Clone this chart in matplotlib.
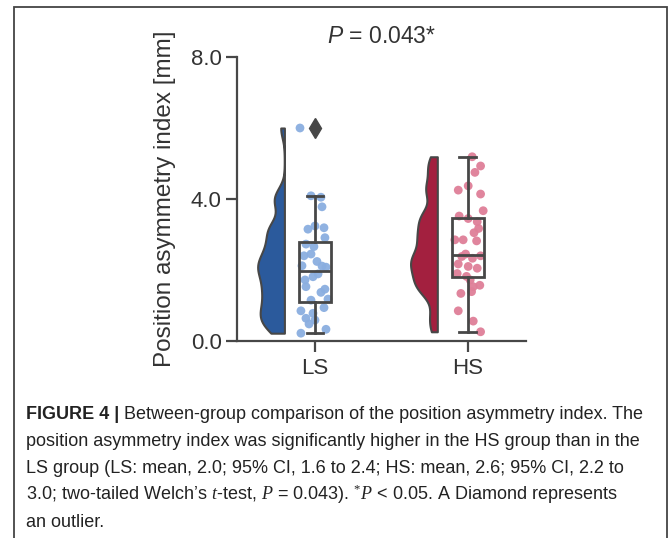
import matplotlib
matplotlib.use("Agg")
import matplotlib.pyplot as plt
import matplotlib.patches as mpatches
import numpy as np

# ---- data ----
groups = ["LS", "HS"]
ls_values = [6.0, 4.09, 4.05, 3.78, 3.15, 3.24, 3.19, 2.91, 2.73, 2.66, 2.40, 2.45,
             2.24, 2.11, 2.08, 2.12, 1.89, 1.81, 1.72, 1.53, 1.46, 1.37, 1.18, 1.15,
             0.94, 0.85, 0.78, 0.64, 0.59, 0.48, 0.33, 0.22]
ls_jitter = [-0.098, -0.026, 0.039, 0.046, -0.046, 0.0, 0.059, 0.065, -0.059, -0.007,
             -0.072, -0.026, 0.013, 0.046, 0.072, -0.085, 0.02, -0.013, -0.065, -0.059,
             0.065, 0.039, 0.085, -0.026, 0.059, -0.092, -0.013, -0.059, 0.0, -0.039,
             0.072, -0.092]
hs_values = [5.19, 4.93, 4.75, 4.37, 4.25, 4.14, 3.67, 3.52, 3.45, 3.36, 3.17, 3.05,
             2.85, 2.85, 2.82, 2.40, 2.45, 2.38, 2.33, 2.17, 2.10, 2.05, 1.90, 1.82,
             1.72, 1.57, 1.53, 1.39, 1.34, 0.85, 0.56, 0.26]
hs_jitter = [0.028, 0.083, 0.046, 0.002, -0.063, 0.083, 0.1, -0.057, 0.002, 0.061,
             0.07, 0.04, -0.085, -0.031, 0.057, 0.083, -0.015, -0.04, 0.03, -0.063,
             0.002, 0.061, -0.07, -0.009, 0.015, 0.078, 0.035, 0.024, -0.046, -0.063,
             0.035, 0.083]
y_ticks = [0.0, 4.0, 8.0]
y_ticklabels = ["0.0", "4.0", "8.0"]
title_text = r"$\mathsf{P}$ = 0.043*"
ylabel_text = "Position asymmetry index [mm]"
caption_bold = "FIGURE 4 |"
caption_lines = [
    " Between-group comparison of the position asymmetry index. The",
    "position asymmetry index was significantly higher in the HS group than in the",
    "LS group (LS: mean, 2.0; 95% CI, 1.6 to 2.4; HS: mean, 2.6; 95% CI, 2.2 to",
    r"3.0; two-tailed Welch’s $t$-test, $P$ = 0.043). $^{*}P$ < 0.05. A Diamond represents",
    "an outlier.",
]

violin_colors = ["#2b5a9c", "#a3203f"]
point_colors = ["#8aaee0", "#df7f98"]
dark = "#474747"

plt.rcParams["font.family"] = ["Liberation Sans", "DejaVu Sans"]
plt.rcParams["mathtext.fontset"] = "custom"
plt.rcParams["mathtext.rm"] = "Liberation Serif"
plt.rcParams["mathtext.it"] = "Liberation Serif:italic"
plt.rcParams["mathtext.bf"] = "Liberation Sans:bold"
plt.rcParams["mathtext.sf"] = "Liberation Sans:italic"

W, H = 669, 538
fig = plt.figure(figsize=(W / 100, H / 100), dpi=100)
fig.patch.set_facecolor("white")

ax = fig.add_axes([237 / W, 1 - 341 / H, (526 - 237) / W, (341 - 57) / H])

data = [ls_values, hs_values]
jit = [ls_jitter, hs_jitter]
pos = np.arange(len(groups))

# half violins
vp = ax.violinplot(data, positions=pos - 0.2, widths=0.35, showextrema=False,
                   bw_method=0.22, side="low")
for body, c in zip(vp["bodies"], violin_colors):
    body.set_facecolor(c)
    body.set_edgecolor(dark)
    body.set_linewidth(1.5)
    body.set_alpha(1)
    body.set_zorder(2)

# rain points
for i, (vals, jj, c) in enumerate(zip(data, jit, point_colors)):
    ax.scatter(pos[i] + np.array(jj), vals, s=40, color=c, edgecolor="none",
               alpha=0.95, zorder=3)

# boxes
ax.boxplot(data, positions=pos, widths=0.21, capwidths=0.11, whis=1.5,
           patch_artist=True, manage_ticks=False, zorder=4,
           boxprops=dict(facecolor="none", edgecolor=dark, linewidth=2.0),
           whiskerprops=dict(color=dark, linewidth=2.0),
           capprops=dict(color=dark, linewidth=2.0),
           medianprops=dict(color=dark, linewidth=2.0),
           flierprops=dict(marker="d", markerfacecolor=dark, markeredgecolor=dark,
                           markersize=10))

ax.set_xlim(-0.51, 1.38)
ax.set_ylim(0, 8)
ax.set_xticks(pos)
ax.set_xticklabels(groups, fontsize=16, color="#333333")
ax.set_yticks(y_ticks)
ax.set_yticklabels(y_ticklabels, fontsize=16, color="#333333")
for s in ["top", "right"]:
    ax.spines[s].set_visible(False)
for s in ["left", "bottom"]:
    ax.spines[s].set_color(dark)
    ax.spines[s].set_linewidth(1.6)
ax.tick_params(axis="both", color=dark, width=1.6, length=8)
ax.tick_params(axis="x", pad=4)
ax.tick_params(axis="y", pad=3)

ax.set_ylabel(ylabel_text, fontsize=17.5, color="#333333")
ax.yaxis.set_label_coords(-0.21, 0.5)
ax.set_title(title_text, fontsize=16.5, color="#333333", pad=10)

# frame
frame = mpatches.Rectangle((14 / W, -0.05), (667 - 14) / W, 1.05 - 7 / H,
                           transform=fig.transFigure, fill=False,
                           edgecolor="#444444", linewidth=1.3, clip_on=False)
fig.add_artist(frame)

# caption
x0 = 26 / W
base0 = 419
step = 27
fs = 13
t1 = fig.text(x0, 1 - base0 / H, caption_bold, fontsize=fs, weight="bold",
              va="baseline", ha="left", color="#222222")
fig.canvas.draw()
bb = t1.get_window_extent(fig.canvas.get_renderer())
x_after = bb.x1 / fig.bbox.width
for k, line in enumerate(caption_lines):
    xx = x_after if k == 0 else x0
    fig.text(xx, 1 - (base0 + k * step) / H, line, fontsize=fs, va="baseline",
             ha="left", color="#222222")

fig.savefig("out.png", dpi=100, facecolor="white")
